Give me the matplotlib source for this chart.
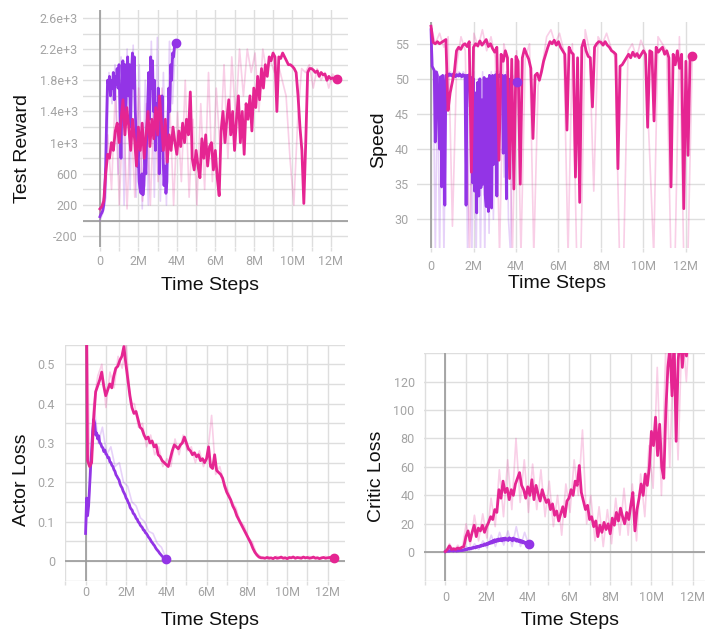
import matplotlib
matplotlib.use("Agg")
import matplotlib.pyplot as plt
import numpy as np

PINK = "#e52592"
PURPLE = "#9334e6"

# ---------------- Test Reward ----------------
reward_pink = [150, 180, 250, 600, 850, 800, 1000, 900, 1150, 1250,
               1000, 1300, 1550, 1100, 1450, 1200, 900, 1300, 1050, 700,
               1200, 900, 1250, 800, 1100, 1400, 950, 1300, 1050, 1450,
               1100, 1600, 1250, 900, 1300, 750, 1100, 900, 1200, 1000,
               850, 1150, 950, 1250, 1000, 1300, 1100, 1650, 800, 650,
               900, 700, 550, 1050, 800, 1100, 700, 950, 1000, 650,
               900, 550, 320, 1150, 1400, 1000, 1300, 1550, 1100, 1400,
               900, 1300, 1600, 1000, 1400, 850, 1500, 1300, 1600, 1150,
               1700, 1450, 1850, 1550, 1950, 1700, 2000, 1850, 2100, 2050,
               2150, 2100, 1400, 2100, 2080, 2150, 2100, 2050, 2000, 2000,
               1980, 1950, 1900, 1600, 1200, 900, 220, 1000, 1900, 1950,
               1950, 1930, 1900, 1920, 1850, 1900, 1870, 1880, 1800, 1850,
               1820, 1830, 1810, 1810]
reward_pink_raw = [100, 300, 1100, 400, 1700, 200, 1500, 150, 1400, 300,
                   1700, 250, 1500, 200, 1600, 500, 1700, 350, 1500, 200,
                   1400, 500, 1800, 300, 1300, 200, 1500, 400, 1900, 500,
                   1700, 900, 2000, 800, 2100, 1300, 2200, 1600, 2200, 1900,
                   2150, 1400, 2200, 1900, 2050, 1900, 2000, 1800, 1600, 800,
                   200, 1300, 1950, 1900, 2000, 1700, 1950, 1800, 1900, 1700,
                   1880, 1810]
reward_purple = [50, 80, 100, 130, 200, 350, 700, 1300, 1800, 1750,
                 1850, 1600, 1800, 1700, 1900, 1550, 1850, 1750, 1950, 1700,
                 2000, 1400, 800, 1600, 2050, 1500, 2000, 1300, 1900, 2100,
                 1600, 2000, 1200, 1900, 2150, 1700, 2100, 1400, 1000, 700,
                 900, 500, 400, 350, 600, 330, 450, 800, 600, 1100,
                 1500, 1900, 1300, 2100, 1700, 2050, 1400, 1800, 900, 1500,
                 1100, 1700, 600, 1300, 900, 1600, 800, 450, 700, 350,
                 500, 1200, 1700, 1400, 2000, 1800, 2150, 2100, 2250, 2280]
reward_purple_raw = [0, 100, 300, 1900, 1500, 2000, 600, 2100, 200, 2200,
                     400, 2250, 300, 2000, 150, 1800, 200, 2300, 300, 2350,
                     250, 1900, 200, 2300, 1500, 2280]

# ---------------- Speed ----------------
speed_pink = [57.5, 55.2, 55.0, 55.3, 55.0, 55.2, 55.4, 55.6, 45.5, 48.0,
              49.5, 51.0, 54.0, 54.5, 54.2, 54.8, 55.0, 54.6, 55.3, 36.7,
              54.5, 55.0, 54.7, 55.4, 54.8, 55.2, 55.6, 54.6, 55.0, 54.3,
              53.8, 54.5, 38.4, 53.5, 52.5, 54.0, 53.0, 35.8, 52.8, 34.3,
              53.2, 52.5, 35.0, 53.0, 54.3, 53.5, 52.8, 51.5, 41.5, 50.5,
              50.8, 49.8, 51.0, 52.5, 53.5, 54.5, 55.3, 55.0, 55.5, 54.8,
              55.3, 54.5, 54.0, 53.5, 42.7, 54.5, 53.8, 53.5, 36.0, 53.0,
              32.4, 54.5, 55.5, 54.0, 53.2, 53.0, 46.0, 54.5, 55.0, 55.3,
              55.2, 54.8, 55.3, 54.8, 54.5, 54.0, 53.8, 53.5, 37.2, 51.8,
              52.0, 52.5, 53.0, 53.5, 53.0, 53.8, 53.2, 53.6, 53.0, 53.5,
              54.0, 53.5, 43.1, 54.0, 53.8, 44.0, 54.5, 53.8, 54.2, 54.5,
              53.5, 54.0, 53.0, 34.6, 53.5, 52.0, 54.0, 51.5, 53.5, 31.5,
              52.5, 39.1, 53.5, 53.2]
speed_pink_raw = [57.5, 55.0, 56.5, 54.5, 56.0, 29.0, 52.0, 56.0, 54.0, 25.0,
                  56.5, 54.5, 57.0, 54.0, 56.0, 53.0, 25.0, 55.0, 52.0, 25.0,
                  54.0, 25.0, 53.0, 55.0, 25.0, 49.0, 52.0, 56.0, 57.0, 55.0,
                  56.5, 54.0, 25.0, 55.0, 25.0, 25.0, 57.0, 54.0, 34.0, 56.0,
                  55.0, 56.5, 54.5, 53.0, 25.0, 25.0, 54.0, 55.0, 53.0, 55.5,
                  54.0, 40.0, 25.0, 56.0, 55.0, 54.0, 25.0, 25.0, 56.0, 25.0,
                  25.0, 53.0]
speed_purple = [57.0, 51.8, 51.5, 51.2, 41.0, 51.0, 50.5, 44.0, 40.0, 50.3,
                34.6, 50.5, 48.0, 32.0, 50.5, 50.6, 50.4, 50.7, 50.5, 50.6,
                50.4, 50.7, 50.5, 50.3, 50.6, 50.5, 50.4, 50.7, 50.5, 50.3,
                50.6, 50.4, 50.5, 32.0, 50.5, 50.3, 50.6, 46.0, 50.2, 35.2,
                50.0, 34.0, 48.0, 30.9, 49.5, 33.3, 50.0, 34.5, 47.0, 35.0,
                50.2, 33.5, 31.8, 50.0, 31.1, 50.5, 50.3, 31.6, 50.5, 37.8,
                50.4, 50.6, 33.3, 50.5, 50.3, 50.6, 50.4, 50.5, 39.4, 50.4,
                50.5, 32.9, 50.2, 49.8, 46.0, 50.0, 49.7, 49.5, 49.8, 49.5,
                49.6, 49.6]
speed_purple_raw = [57, 51.5, 25, 51, 25, 50, 25, 51, 50.5, 51,
                    50, 51, 50.5, 51, 50, 51, 50.5, 25, 51, 25,
                    51, 25, 50, 25, 51, 25, 50, 28, 51, 30,
                    51, 35, 51, 50.5, 36, 51, 30, 25, 50.5, 49.5,
                    49.6]

# ---------------- Actor Loss ----------------
actor_pink = [0.9, 0.255, 0.24, 0.25, 0.36, 0.43, 0.445, 0.46, 0.48, 0.445,
              0.42, 0.435, 0.45, 0.44, 0.47, 0.49, 0.495, 0.51, 0.52, 0.545,
              0.50, 0.46, 0.42, 0.39, 0.375, 0.38, 0.36, 0.34, 0.335, 0.32,
              0.31, 0.315, 0.30, 0.305, 0.29, 0.295, 0.27, 0.265, 0.255, 0.25,
              0.245, 0.24, 0.26, 0.28, 0.295, 0.29, 0.285, 0.295, 0.30, 0.315,
              0.30, 0.285, 0.28, 0.27, 0.275, 0.265, 0.27, 0.255, 0.26, 0.25,
              0.26, 0.29, 0.24, 0.235, 0.27, 0.23, 0.225, 0.22, 0.21, 0.19,
              0.175, 0.165, 0.155, 0.14, 0.13, 0.115, 0.105, 0.095, 0.085, 0.075,
              0.065, 0.055, 0.045, 0.032, 0.022, 0.015, 0.01, 0.008, 0.008, 0.007,
              0.009, 0.007, 0.008, 0.006, 0.009, 0.007, 0.008, 0.010, 0.007, 0.008,
              0.006, 0.009, 0.008, 0.010, 0.007, 0.009, 0.008, 0.007, 0.010, 0.008,
              0.009, 0.007, 0.008, 0.010, 0.007, 0.008, 0.006, 0.008, 0.009, 0.007,
              0.008, 0.009, 0.008, 0.008]
actor_pink_raw = [0.9, 0.22, 0.40, 0.47, 0.50, 0.39, 0.48, 0.44, 0.52, 0.49,
                  0.55, 0.40, 0.40, 0.34, 0.35, 0.29, 0.32, 0.27, 0.29, 0.24,
                  0.26, 0.24, 0.31, 0.27, 0.32, 0.28, 0.29, 0.25, 0.28, 0.24,
                  0.27, 0.37, 0.22, 0.24, 0.20, 0.18, 0.15, 0.135, 0.10, 0.09,
                  0.06, 0.048, 0.02, 0.012, 0.006, 0.011, 0.005, 0.012, 0.006, 0.011,
                  0.005, 0.012, 0.006, 0.011, 0.005, 0.012, 0.006, 0.011, 0.005, 0.012,
                  0.006, 0.008]
actor_purple = [0.07, 0.16, 0.115, 0.14, 0.19, 0.24, 0.28, 0.33, 0.36, 0.35,
                0.32, 0.325, 0.31, 0.318, 0.30, 0.298, 0.29, 0.288, 0.278, 0.282,
                0.272, 0.27, 0.262, 0.263, 0.252, 0.25, 0.243, 0.24, 0.232, 0.228,
                0.219, 0.215, 0.21, 0.206, 0.196, 0.19, 0.186, 0.178, 0.173, 0.168,
                0.16, 0.156, 0.149, 0.145, 0.136, 0.132, 0.129, 0.121, 0.119, 0.114,
                0.108, 0.106, 0.099, 0.097, 0.091, 0.088, 0.085, 0.079, 0.078, 0.072,
                0.070, 0.066, 0.061, 0.058, 0.054, 0.049, 0.046, 0.042, 0.039, 0.034,
                0.030, 0.027, 0.024, 0.020, 0.017, 0.014, 0.011, 0.008, 0.006, 0.005]
actor_purple_raw = [0.07, 0.18, 0.40, 0.30, 0.34, 0.27, 0.29, 0.24, 0.25, 0.20,
                    0.19, 0.15, 0.14, 0.11, 0.10, 0.075, 0.07, 0.045, 0.035, 0.01]

# ---------------- Critic Loss ----------------
critic_pink = [0.5, 2.0, 4.5, 2.0, 2.5, 2.0, 3.0, 2.5, 3.5, 4.0,
               11.0, 15.0, 8.0, 14.0, 19.0, 11.0, 17.0, 15.0, 19.0, 14.0,
               18.0, 21.0, 25.0, 23.0, 30.0, 28.0, 44.0, 38.0, 50.0, 42.0,
               45.0, 37.0, 44.0, 40.0, 48.0, 52.0, 56.0, 47.0, 44.0, 38.0,
               46.0, 40.0, 51.0, 37.0, 47.0, 41.0, 36.0, 44.0, 39.0, 35.0,
               37.0, 30.0, 34.0, 26.0, 29.0, 22.0, 27.0, 32.0, 25.0, 36.0,
               38.0, 44.0, 40.0, 50.0, 47.0, 61.0, 42.0, 36.0, 30.0, 33.0,
               23.0, 25.0, 18.0, 22.0, 11.0, 19.0, 14.0, 21.0, 16.0, 20.0,
               13.0, 24.0, 19.0, 28.0, 22.0, 31.0, 25.0, 20.0, 28.0, 23.0,
               33.0, 42.0, 15.0, 30.0, 38.0, 48.0, 40.0, 55.0, 47.0, 60.0,
               85.0, 75.0, 95.0, 68.0, 90.0, 60.0, 52.0, 100.0, 130.0, 145.0,
               110.0, 150.0, 78.0, 135.0, 155.0, 130.0, 150.0, 138.0, 160.0, 170.0,
               165.0, 180.0, 175.0, 185.0]
critic_pink_raw = [0, 6, 1, 5, 1, 20, 5, 26, 8, 27,
                   10, 38, 18, 58, 25, 65, 30, 80, 35, 65,
                   28, 62, 30, 58, 25, 50, 18, 40, 12, 48,
                   28, 65, 40, 86, 20, 40, 8, 32, 4, 30,
                   6, 38, 12, 45, 12, 48, 8, 55, 25, 75,
                   45, 130, 40, 140, 60, 150, 65, 160, 120, 170,
                   150, 180]
critic_purple = [0.5, 0.8, 0.6, 1.0, 0.7, 1.2, 0.9, 1.1, 0.8, 1.3,
                 1.0, 0.7, 1.2, 0.9, 1.4, 1.1, 1.6, 1.2, 1.8, 1.5,
                 2.2, 1.8, 2.6, 2.2, 3.0, 2.5, 3.2, 2.8, 3.6, 3.0,
                 4.0, 3.5, 4.3, 3.8, 4.8, 4.2, 5.2, 4.6, 5.8, 5.0,
                 6.2, 5.4, 6.8, 6.0, 7.5, 6.4, 8.2, 6.9, 8.8, 7.4,
                 9.0, 7.8, 9.4, 8.2, 9.6, 8.0, 9.8, 8.4, 10.0, 8.6,
                 9.5, 8.2, 10.2, 8.8, 9.6, 8.0, 10.0, 8.5, 9.4, 7.8,
                 9.0, 7.5, 8.6, 7.0, 8.2, 6.6, 7.6, 6.2, 7.0, 5.8,
                 6.4, 5.8]
critic_purple_raw = [0, 2, 0, 3, 1, 4, 1, 6, 2, 8,
                     3, 12, 4, 14, 5, 15, 4, 18, 4, 14, 5]

PINK_END = 12.3
PURPLE_END = {"reward": 3.93, "speed": 4.05, "actor": 3.97, "critic": 4.05}

xtick_vals = [0, 2, 4, 6, 8, 10, 12]
xtick_labels = ["0", "2M", "4M", "6M", "8M", "10M", "12M"]

GRID = "#dedede"
AXIS0 = "#9a9a9a"
TICKTXT = "#a4a4a4"

fig = plt.figure(figsize=(7.05, 6.32), dpi=100)

panels = [
    dict(key="reward", rect=[0.1177, 0.609, 0.376, 0.375], ylim=(-340, 2700), xlim=(-0.88, 12.9),
         yticks=[-200, 200, 600, 1000, 1400, 1800, 2200, 2600],
         ylabels=["-200", "200", "600", "1e+3", "1.4e+3", "1.8e+3", "2.2e+3", "2.6e+3"],
         ygrid=np.arange(-200, 2700, 200), xgrid=np.arange(0, 13, 1),
         ylabel="Test Reward", ylpos=(-0.23, 0.418), xlpos=(0.479, -0.16),
         xpad=2.5, ypad=3.6, zero=True,
         pink=reward_pink, pink_raw=reward_pink_raw, purple=reward_purple, purple_raw=reward_purple_raw),
    dict(key="speed", rect=[0.5915, 0.6076, 0.4085, 0.3576], ylim=(25.9, 58.1), xlim=(-0.66, 12.9),
         yticks=[30, 35, 40, 45, 50, 55], ylabels=["30", "35", "40", "45", "50", "55"],
         ygrid=np.arange(30, 58, 5), xgrid=np.arange(0, 13, 2),
         ylabel="Speed", ylpos=(-0.132, 0.478), xlpos=(0.486, -0.155),
         xpad=5.5, ypad=5.8, zero=False,
         pink=speed_pink, pink_raw=speed_pink_raw, purple=speed_purple, purple_raw=speed_purple_raw),
    dict(key="actor", rect=[0.0922, 0.0812, 0.397, 0.373], ylim=(-0.05, 0.549), xlim=(-1.02, 12.86),
         yticks=[0, 0.1, 0.2, 0.3, 0.4, 0.5], ylabels=["0", "0.1", "0.2", "0.3", "0.4", "0.5"],
         ygrid=np.arange(-0.05, 0.55, 0.05), xgrid=np.arange(-1, 13, 1),
         ylabel="Actor Loss", ylpos=(-0.157, 0.427), xlpos=(0.518, -0.167),
         xpad=0.5, ypad=7.2, zero=True,
         pink=actor_pink, pink_raw=actor_pink_raw, purple=actor_purple, purple_raw=actor_purple_raw),
    dict(key="critic", rect=[0.601, 0.0812, 0.399, 0.360], ylim=(-20, 140), xlim=(-1.05, 12.6),
         yticks=[0, 20, 40, 60, 80, 100, 120], ylabels=["0", "20", "40", "60", "80", "100", "120"],
         ygrid=np.arange(-20, 141, 20), xgrid=np.arange(-1, 13, 1),
         ylabel="Critic Loss", ylpos=(-0.167, 0.457), xlpos=(0.52, -0.173),
         xpad=4.5, ypad=6.5, zero=True,
         pink=critic_pink, pink_raw=critic_pink_raw, purple=critic_purple, purple_raw=critic_purple_raw),
]

for p in panels:
    ax = fig.add_axes(p["rect"])
    for s in ax.spines.values():
        s.set_visible(False)
    ax.set_xlim(*p["xlim"])
    ax.set_ylim(*p["ylim"])

    for gy in p["ygrid"]:
        ax.axhline(gy, color=GRID, lw=1.0, zorder=0)
    for gx in p["xgrid"]:
        ax.axvline(gx, color=GRID, lw=1.0, zorder=0)
    ax.axvline(0, color=AXIS0, lw=1.2, zorder=1)
    if p["zero"]:
        ax.axhline(0, color=AXIS0, lw=1.2, zorder=1)

    pend = PURPLE_END[p["key"]]
    x_pu_raw = np.linspace(0, pend, len(p["purple_raw"]))
    x_pi_raw = np.linspace(0, PINK_END, len(p["pink_raw"]))
    x_pu = np.linspace(0, pend, len(p["purple"]))
    x_pi = np.linspace(0, PINK_END, len(p["pink"]))

    ax.plot(x_pu_raw, p["purple_raw"], color=PURPLE, alpha=0.22, lw=1.2, zorder=2)
    ax.plot(x_pi_raw, p["pink_raw"], color=PINK, alpha=0.22, lw=1.2, zorder=2)
    ax.plot(x_pu, p["purple"], color=PURPLE, lw=2.0, zorder=3)
    ax.plot(x_pi, p["pink"], color=PINK, lw=2.0, zorder=4)
    ax.plot([x_pu[-1]], [p["purple"][-1]], "o", color=PURPLE, ms=6, zorder=5)
    ax.plot([x_pi[-1]], [p["pink"][-1]], "o", color=PINK, ms=6, zorder=5)

    ax.set_xticks(xtick_vals)
    ax.set_xticklabels(xtick_labels)
    ax.set_xticks(p["xgrid"], minor=True)
    ax.set_yticks(p["yticks"])
    ax.set_yticklabels(p["ylabels"])
    ax.tick_params(axis="x", which="both", length=3, width=1, color=GRID,
                   pad=p["xpad"], labelsize=9, labelcolor=TICKTXT)
    ax.tick_params(axis="y", length=0, pad=p["ypad"], labelsize=9, labelcolor=TICKTXT)
    for lab in ax.get_xticklabels() + ax.get_yticklabels():
        lab.set_fontfamily("Roboto")

    ax.set_ylabel(p["ylabel"], fontsize=14, family="Liberation Sans", color="#111111")
    ax.yaxis.set_label_coords(*p["ylpos"])
    ax.yaxis.label.set_va("center")
    ax.set_xlabel("Time Steps", fontsize=14, family="Liberation Sans", color="#111111")
    ax.xaxis.set_label_coords(*p["xlpos"])
    ax.xaxis.label.set_va("center")

fig.savefig("out.png", dpi=100)
